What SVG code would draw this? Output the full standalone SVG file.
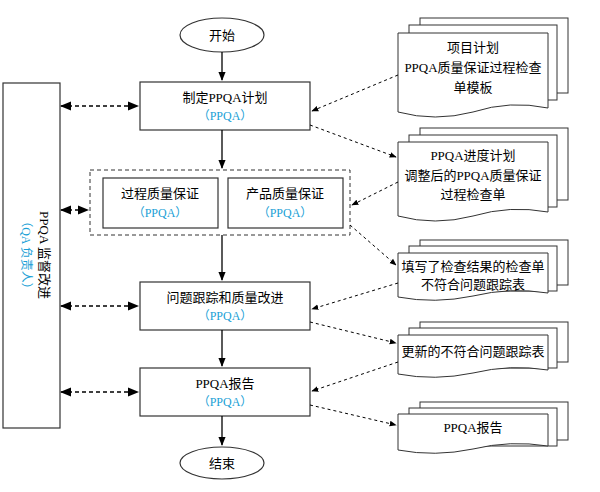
<svg xmlns="http://www.w3.org/2000/svg" width="600" height="492" viewBox="0 0 600 492">
<defs>
<marker id="a" viewBox="0 0 10 10" refX="9" refY="5" markerWidth="7" markerHeight="7" orient="auto-start-reverse"><path d="M0,1 L10,5 L0,9 z" fill="#000"/></marker>
<style>
text{font-family:"Liberation Serif","Noto Sans CJK SC",serif;font-size:13px;text-anchor:middle;fill:#000}
.b{fill:#1a9fd6;font-size:12px}
.n{fill:#fff;stroke:#333;stroke-width:1.2}
.d{stroke:#000;stroke-width:1;stroke-dasharray:3,3;fill:none}
.bd{stroke:#000;stroke-width:1.6;stroke-dasharray:4,3;fill:none}
.s{stroke:#000;stroke-width:1.3;fill:none}
.pg{fill:#fff;stroke:#333;stroke-width:1}
</style>
</defs>
<g id="start"><ellipse class="n" cx="222" cy="35" rx="42" ry="17"/><text x="222" y="40">开始</text></g>
<g id="plan"><rect class="n" x="140" y="82" width="170" height="48"/><text x="225" y="102">制定PPQA计划</text><text class="b" x="225" y="120">（PPQA）</text></g>
<g id="qa"><rect x="90" y="170" width="260" height="65" fill="none" stroke="#333" stroke-dasharray="4,3"/>
<rect class="n" x="103" y="178" width="115" height="50"/><text x="160" y="198">过程质量保证</text><text class="b" x="160" y="217">（PPQA）</text>
<rect class="n" x="228" y="178" width="115" height="50"/><text x="285" y="198">产品质量保证</text><text class="b" x="285" y="217">（PPQA）</text></g>
<g id="track"><rect class="n" x="140" y="282" width="170" height="48"/><text x="225" y="302">问题跟踪和质量改进</text><text class="b" x="225" y="320">（PPQA）</text></g>
<g id="report"><rect class="n" x="140" y="368" width="170" height="48"/><text x="225" y="388">PPQA报告</text><text class="b" x="225" y="406">（PPQA）</text></g>
<g id="end"><ellipse class="n" cx="222" cy="463" rx="42" ry="16"/><text x="222" y="468">结束</text></g>
<g id="supervise"><rect class="n" x="3" y="83" width="57" height="345"/>
<text transform="translate(40,255) rotate(90)">PPQA 监督改进</text>
<text class="b" transform="translate(22,255) rotate(90)">（QA 负责人）</text></g>
<g id="doc1"><rect class="pg" x="420" y="18" width="148" height="75"/><rect class="pg" x="409" y="25" width="148" height="75"/><path class="pg" d="M398,33 H548 V108 Q510,100 473,112 Q435,122 398,112 Z"/>
<text x="473" y="52">项目计划</text><text x="473" y="72">PPQA质量保证过程检查</text><text x="473" y="92">单模板</text></g>
<g id="doc2"><rect class="pg" x="420" y="128" width="148" height="72"/><rect class="pg" x="409" y="135" width="148" height="72"/><path class="pg" d="M398,142 H548 V212 Q510,205 473,216 Q435,226 398,216 Z"/>
<text x="473" y="160">PPQA进度计划</text><text x="473" y="180">调整后的PPQA质量保证</text><text x="473" y="199">过程检查单</text></g>
<g id="doc3"><rect class="pg" x="420" y="240" width="148" height="45"/><rect class="pg" x="409" y="246" width="148" height="45"/><path class="pg" d="M398,253 H548 V293 Q510,287 473,296 Q435,304 398,297 Z"/>
<text x="473" y="271">填写了检查结果的检查单</text><text x="473" y="289">不符合问题跟踪表</text></g>
<g id="doc4"><rect class="pg" x="420" y="322" width="148" height="40"/><rect class="pg" x="409" y="328" width="148" height="40"/><path class="pg" d="M398,335 H548 V370 Q510,364 473,373 Q435,381 398,374 Z"/>
<text x="473" y="356">更新的不符合问题跟踪表</text></g>
<g id="doc5"><rect class="pg" x="420" y="402" width="148" height="38"/><rect class="pg" x="409" y="408" width="148" height="38"/><path class="pg" d="M398,414 H548 V446 Q510,440 473,449 Q435,457 398,450 Z"/>
<text x="473" y="432">PPQA报告</text></g>
<g id="connectors">
<path class="s" d="M222,52 V80" marker-end="url(#a)"/>
<path class="s" d="M222,130 V168" marker-end="url(#a)"/>
<path class="s" d="M222,235 V280" marker-end="url(#a)"/>
<path class="s" d="M222,330 V366" marker-end="url(#a)"/>
<path class="s" d="M222,416 V445" marker-end="url(#a)"/>
<path class="bd" d="M61,106 H138" marker-start="url(#a)" marker-end="url(#a)"/>
<path class="bd" d="M61,210 H88" marker-start="url(#a)" marker-end="url(#a)"/>
<path class="bd" d="M61,306 H138" marker-start="url(#a)" marker-end="url(#a)"/>
<path class="bd" d="M61,392 H138" marker-start="url(#a)" marker-end="url(#a)"/>
<path class="d" d="M398,75 L312,111" marker-end="url(#a)"/>
<path class="d" d="M310,125 L396,157" marker-end="url(#a)"/>
<path class="d" d="M398,182 L352,205" marker-end="url(#a)"/>
<path class="d" d="M350,225 L396,265" marker-end="url(#a)"/>
<path class="d" d="M398,283 L312,309" marker-end="url(#a)"/>
<path class="d" d="M310,322 L396,343" marker-end="url(#a)"/>
<path class="d" d="M398,362 L312,391" marker-end="url(#a)"/>
<path class="d" d="M310,405 L396,425" marker-end="url(#a)"/>
</g>
</svg>
